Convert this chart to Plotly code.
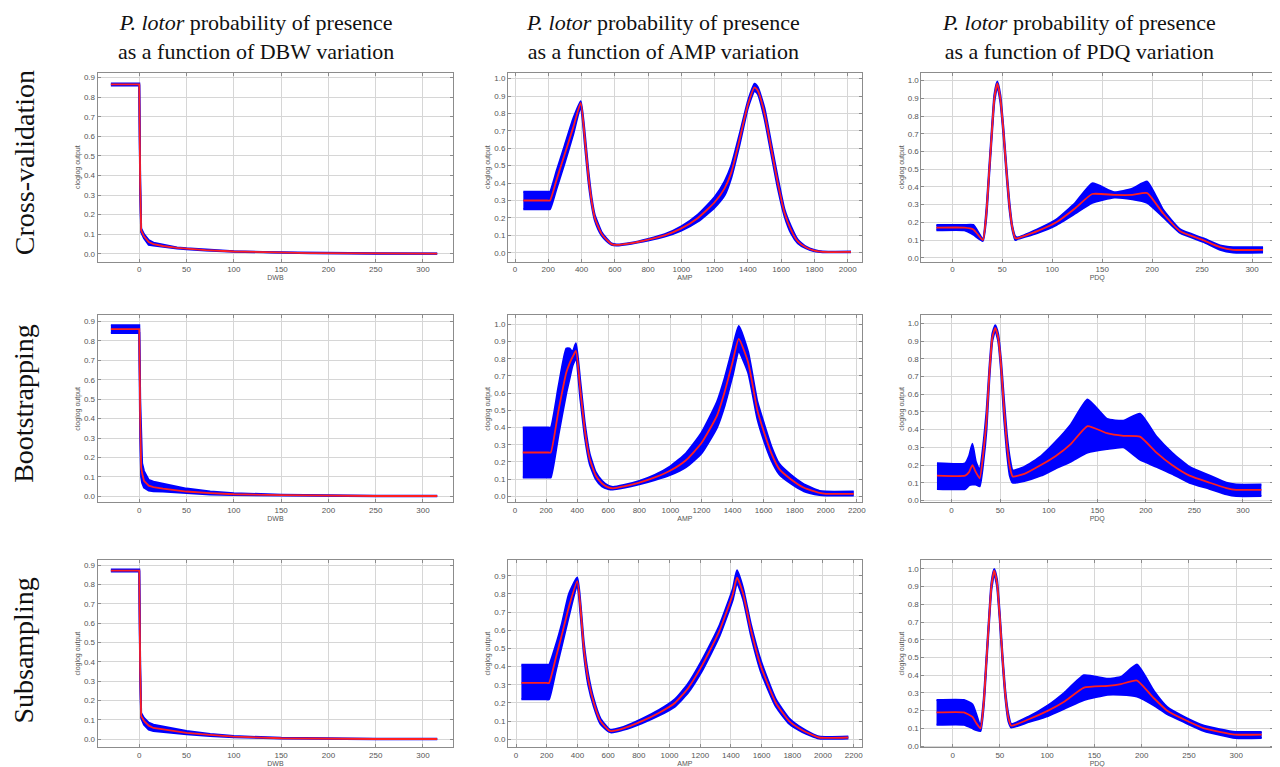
import plotly.graph_objects as go

# ---------------- data ----------------
col_vars = ["DBW", "AMP", "PDQ"]
x_titles = ["DWB", "AMP", "PDQ"]
row_names = ["Cross-validation", "Bootstrapping", "Subsampling"]

# Cross-validation / DBW
cv_dbw_x = [-30, 0, 1, 2, 5, 10, 15, 25, 40, 50, 70, 100, 140, 180, 250, 315]
cv_dbw_mean = [0.865, 0.865, 0.35, 0.12, 0.09, 0.06, 0.05, 0.04, 0.03, 0.026, 0.019, 0.012, 0.007, 0.004, 0.002, 0.001]
cv_dbw_lo = [0.86, 0.86, 0.33, 0.11, 0.08, 0.046, 0.042, 0.035, 0.027, 0.024, 0.017, 0.011, 0.006, 0.003, 0.001, 0.0]
cv_dbw_hi = [0.87, 0.87, 0.37, 0.13, 0.10, 0.07, 0.057, 0.046, 0.033, 0.028, 0.021, 0.013, 0.008, 0.005, 0.003, 0.002]

# Bootstrapping / DBW
bs_dbw_x = [-30, 0, 1, 2, 3, 5, 10, 15, 25, 40, 50, 75, 100, 150, 200, 250, 315]
bs_dbw_mean = [0.86, 0.86, 0.4, 0.15, 0.12, 0.08, 0.055, 0.048, 0.04, 0.03, 0.025, 0.017, 0.011, 0.006, 0.003, 0.002, 0.002]
bs_dbw_lo = [0.84, 0.84, 0.3, 0.1, 0.07, 0.045, 0.03, 0.027, 0.025, 0.02, 0.016, 0.01, 0.007, 0.004, 0.002, 0.001, 0.001]
bs_dbw_hi = [0.88, 0.88, 0.5, 0.27, 0.17, 0.13, 0.085, 0.075, 0.065, 0.05, 0.04, 0.025, 0.016, 0.009, 0.005, 0.003, 0.003]

# Subsampling / DBW
ss_dbw_x = [-30, 0, 1, 2, 5, 10, 15, 25, 40, 50, 75, 100, 150, 200, 250, 315]
ss_dbw_mean = [0.872, 0.872, 0.35, 0.12, 0.095, 0.07, 0.058, 0.05, 0.04, 0.033, 0.022, 0.013, 0.005, 0.002, 0.001, 0.001]
ss_dbw_lo = [0.867, 0.867, 0.33, 0.11, 0.075, 0.05, 0.042, 0.037, 0.03, 0.025, 0.017, 0.01, 0.004, 0.001, 0.0, 0.0]
ss_dbw_hi = [0.877, 0.877, 0.37, 0.135, 0.11, 0.085, 0.075, 0.065, 0.052, 0.043, 0.027, 0.016, 0.007, 0.003, 0.002, 0.002]

# Cross-validation / AMP
cv_amp_x = [50, 195, 210, 250, 300, 350, 395, 420, 440, 460, 480, 500, 520, 550, 580, 610, 700, 800, 900, 1000, 1100,
            1200, 1260, 1300, 1350, 1400, 1440, 1460, 1500, 1540, 1580, 1620, 1660, 1700, 1750, 1800, 1850, 2020]
cv_amp_mean = [0.30, 0.30, 0.30, 0.42, 0.57, 0.72, 0.86, 0.65, 0.45, 0.30, 0.20, 0.15, 0.11, 0.075, 0.05, 0.045, 0.055,
               0.075, 0.10, 0.14, 0.20, 0.29, 0.37, 0.46, 0.65, 0.85, 0.95, 0.93, 0.80, 0.60, 0.40, 0.23, 0.13, 0.065,
               0.03, 0.012, 0.005, 0.005]
cv_amp_lo = [0.25, 0.25, 0.25, 0.37, 0.52, 0.68, 0.84, 0.62, 0.42, 0.28, 0.185, 0.135, 0.10, 0.068, 0.046, 0.042, 0.052,
             0.07, 0.093, 0.128, 0.18, 0.26, 0.33, 0.43, 0.62, 0.83, 0.93, 0.91, 0.77, 0.57, 0.37, 0.21, 0.11, 0.055,
             0.025, 0.008, 0.003, 0.003]
cv_amp_hi = [0.35, 0.35, 0.35, 0.47, 0.62, 0.77, 0.87, 0.68, 0.48, 0.32, 0.215, 0.165, 0.12, 0.082, 0.054, 0.048, 0.058,
             0.08, 0.107, 0.152, 0.22, 0.32, 0.41, 0.50, 0.68, 0.87, 0.97, 0.95, 0.83, 0.63, 0.43, 0.25, 0.15, 0.075,
             0.035, 0.016, 0.007, 0.007]

# Bootstrapping / AMP
bs_amp_x = [50, 215, 230, 280, 330, 350, 370, 392, 420, 450, 480, 520, 560, 600, 630, 700, 800, 900, 1000, 1100, 1200,
            1300, 1350, 1400, 1440, 1500, 1560, 1600, 1650, 1700, 1775, 1860, 1960, 2000, 2180]
bs_amp_mean = [0.255, 0.255, 0.255, 0.50, 0.72, 0.77, 0.81, 0.845, 0.62, 0.38, 0.22, 0.12, 0.075, 0.052, 0.047, 0.058,
               0.08, 0.11, 0.15, 0.21, 0.31, 0.47, 0.61, 0.78, 0.915, 0.78, 0.50, 0.38, 0.25, 0.16, 0.10, 0.05, 0.02,
               0.015, 0.015]
bs_amp_lo = [0.11, 0.11, 0.11, 0.36, 0.60, 0.68, 0.76, 0.80, 0.57, 0.34, 0.19, 0.10, 0.058, 0.043, 0.04, 0.05, 0.07,
             0.095, 0.125, 0.17, 0.25, 0.40, 0.53, 0.70, 0.84, 0.72, 0.45, 0.33, 0.21, 0.13, 0.075, 0.03, 0.008, 0.005,
             0.005]
bs_amp_hi = [0.40, 0.40, 0.40, 0.64, 0.86, 0.86, 0.84, 0.89, 0.67, 0.42, 0.25, 0.14, 0.09, 0.062, 0.055, 0.066, 0.09,
             0.125, 0.175, 0.25, 0.37, 0.55, 0.69, 0.86, 0.99, 0.84, 0.55, 0.43, 0.29, 0.19, 0.125, 0.07, 0.032, 0.028,
             0.028]

# Subsampling / AMP
ss_amp_x = [35, 200, 215, 260, 300, 345, 399, 420, 442, 470, 507, 550, 604, 620, 700, 820, 930, 1035, 1120, 1208, 1270,
            1327, 1413, 1440, 1480, 1531, 1596, 1693, 1780, 1866, 1974, 2165]
ss_amp_mean = [0.31, 0.31, 0.31, 0.45, 0.58, 0.73, 0.87, 0.72, 0.50, 0.33, 0.20, 0.10, 0.05, 0.045, 0.06, 0.10, 0.145,
               0.20, 0.28, 0.40, 0.50, 0.60, 0.80, 0.89, 0.80, 0.60, 0.40, 0.20, 0.10, 0.05, 0.01, 0.01]
ss_amp_lo = [0.22, 0.22, 0.22, 0.38, 0.52, 0.68, 0.85, 0.69, 0.47, 0.30, 0.18, 0.085, 0.042, 0.038, 0.052, 0.088, 0.13,
             0.18, 0.255, 0.37, 0.47, 0.57, 0.77, 0.86, 0.77, 0.57, 0.37, 0.18, 0.085, 0.04, 0.005, 0.005]
ss_amp_hi = [0.41, 0.41, 0.41, 0.52, 0.64, 0.80, 0.89, 0.75, 0.53, 0.36, 0.22, 0.115, 0.058, 0.052, 0.068, 0.112, 0.16,
             0.22, 0.305, 0.43, 0.53, 0.63, 0.83, 0.93, 0.83, 0.63, 0.43, 0.22, 0.115, 0.06, 0.015, 0.015]

# Cross-validation / PDQ
cv_pdq_x = [-16, 12, 21, 30.5, 34, 37, 40, 42, 45, 48, 51, 54, 57, 60, 63, 65, 85, 104, 123, 140, 162, 180, 195,
            211, 228, 251, 268, 281, 311]
cv_pdq_mean = [0.17, 0.17, 0.16, 0.10, 0.25, 0.50, 0.75, 0.90, 0.985, 0.90, 0.72, 0.50, 0.30, 0.17, 0.11, 0.11, 0.15,
               0.20, 0.28, 0.36, 0.355, 0.355, 0.365, 0.25, 0.15, 0.10, 0.06, 0.045, 0.045]
cv_pdq_lo = [0.155, 0.155, 0.13, 0.095, 0.23, 0.48, 0.73, 0.88, 0.97, 0.88, 0.70, 0.48, 0.28, 0.16, 0.10, 0.105, 0.14,
             0.185, 0.25, 0.31, 0.34, 0.33, 0.31, 0.23, 0.14, 0.09, 0.045, 0.03, 0.03]
cv_pdq_hi = [0.185, 0.185, 0.185, 0.105, 0.27, 0.52, 0.77, 0.92, 0.995, 0.92, 0.74, 0.52, 0.32, 0.18, 0.12, 0.115, 0.16,
             0.215, 0.31, 0.42, 0.37, 0.39, 0.43, 0.27, 0.16, 0.11, 0.07, 0.06, 0.06]

# Bootstrapping / PDQ
bs_pdq_x = [-15, 14, 18, 21.5, 25, 29, 33, 36, 39, 42, 45, 48, 51, 54, 57, 60, 63, 75, 92, 107, 123, 140, 160, 177,
            194, 211, 227, 245, 266, 283, 293, 319]
bs_pdq_mean = [0.14, 0.14, 0.16, 0.20, 0.16, 0.125, 0.28, 0.45, 0.72, 0.92, 0.975, 0.92, 0.76, 0.52, 0.32, 0.19, 0.135,
               0.15, 0.20, 0.25, 0.32, 0.42, 0.38, 0.365, 0.36, 0.27, 0.20, 0.14, 0.10, 0.07, 0.06, 0.06]
bs_pdq_lo = [0.065, 0.065, 0.085, 0.09, 0.09, 0.08, 0.23, 0.40, 0.69, 0.90, 0.96, 0.90, 0.73, 0.47, 0.27, 0.14, 0.10,
             0.11, 0.14, 0.18, 0.22, 0.27, 0.29, 0.30, 0.23, 0.19, 0.15, 0.10, 0.065, 0.035, 0.025, 0.025]
bs_pdq_hi = [0.21, 0.21, 0.25, 0.32, 0.22, 0.17, 0.33, 0.50, 0.75, 0.94, 0.99, 0.94, 0.79, 0.57, 0.37, 0.24, 0.17,
             0.19, 0.25, 0.33, 0.43, 0.57, 0.46, 0.45, 0.49, 0.36, 0.27, 0.19, 0.14, 0.10, 0.09, 0.09]

# Subsampling / PDQ
ss_pdq_x = [-17, 12, 21, 25, 29.5, 33, 36, 39, 41, 44, 47, 50, 53, 56, 59, 62, 80, 101, 118, 139, 164, 178, 195, 213,
            227, 245, 266, 299, 327]
ss_pdq_mean = [0.19, 0.19, 0.165, 0.13, 0.10, 0.25, 0.50, 0.75, 0.90, 0.99, 0.92, 0.72, 0.48, 0.28, 0.16, 0.115, 0.15,
               0.20, 0.25, 0.33, 0.34, 0.35, 0.37, 0.27, 0.20, 0.15, 0.10, 0.065, 0.065]
ss_pdq_lo = [0.12, 0.12, 0.10, 0.09, 0.085, 0.23, 0.48, 0.73, 0.88, 0.975, 0.90, 0.70, 0.46, 0.26, 0.14, 0.105, 0.135,
             0.17, 0.21, 0.26, 0.29, 0.29, 0.28, 0.23, 0.18, 0.135, 0.085, 0.045, 0.045]
ss_pdq_hi = [0.26, 0.26, 0.235, 0.18, 0.11, 0.27, 0.52, 0.77, 0.92, 1.0, 0.94, 0.74, 0.50, 0.30, 0.18, 0.125, 0.165,
             0.23, 0.30, 0.40, 0.38, 0.39, 0.46, 0.31, 0.22, 0.165, 0.115, 0.08, 0.08]

panels = [
    [(cv_dbw_x, cv_dbw_mean, cv_dbw_lo, cv_dbw_hi), (cv_amp_x, cv_amp_mean, cv_amp_lo, cv_amp_hi),
     (cv_pdq_x, cv_pdq_mean, cv_pdq_lo, cv_pdq_hi)],
    [(bs_dbw_x, bs_dbw_mean, bs_dbw_lo, bs_dbw_hi), (bs_amp_x, bs_amp_mean, bs_amp_lo, bs_amp_hi),
     (bs_pdq_x, bs_pdq_mean, bs_pdq_lo, bs_pdq_hi)],
    [(ss_dbw_x, ss_dbw_mean, ss_dbw_lo, ss_dbw_hi), (ss_amp_x, ss_amp_mean, ss_amp_lo, ss_amp_hi),
     (ss_pdq_x, ss_pdq_mean, ss_pdq_lo, ss_pdq_hi)],
]

# ---------------- layout geometry (pixels) ----------------
W, H = 1280, 767
col_px = [(90, 447), (502, 857), (917, 1270)]
row_px = [(65, 255), (309, 497), (555, 743)]
x_ranges = [
    [[-44, 332], [-42, 2084], [-31, 321]],
    [[-44, 332], [-45, 2231], [-31, 331]],
    [[-44, 332], [-52, 2252], [-33, 339]],
]
y_ranges = [
    [[-0.04, 0.925], [-0.051, 1.034], [-0.022, 1.045]],
    [[-0.031, 0.931], [-0.035, 1.052], [-0.011, 1.045]],
    [[-0.041, 0.926], [-0.043, 0.986], [-0.006, 1.05]],
]
x_dticks = [50, 200, 50]
line_shapes = [("linear", 0), ("spline", 0.5), ("spline", 0.45)]

fig = go.Figure()
BLUE = "#0000ff"
RED = "#ff1f1f"
tickfont = dict(family="Liberation Sans, Arial, sans-serif", size=8, color="#555555")
axtitlefont = dict(family="Liberation Sans, Arial, sans-serif", size=7, color="#555555")

layout_axes = {}
n = 0
for r in range(3):
    for c in range(3):
        n += 1
        xs, mean, lo, hi = panels[r][c]
        xa = "x" if n == 1 else f"x{n}"
        ya = "y" if n == 1 else f"y{n}"
        shp, sm = line_shapes[c]
        lkw = dict(shape=shp)
        if shp == "spline":
            lkw["smoothing"] = sm
        fig.add_trace(go.Scatter(x=xs, y=lo, mode="lines", line=dict(color=BLUE, width=2, **lkw),
                                 xaxis=xa, yaxis=ya, showlegend=False, hoverinfo="skip"))
        fig.add_trace(go.Scatter(x=xs, y=hi, mode="lines", line=dict(color=BLUE, width=2, **lkw),
                                 fill="tonexty", fillcolor=BLUE,
                                 xaxis=xa, yaxis=ya, showlegend=False, hoverinfo="skip"))
        fig.add_trace(go.Scatter(x=xs, y=mean, mode="lines", line=dict(color=RED, width=1.8, **lkw),
                                 xaxis=xa, yaxis=ya, showlegend=False))
        x0, x1 = col_px[c]
        y0, y1 = row_px[r]
        key = "" if n == 1 else str(n)
        layout_axes[f"xaxis{key}"] = dict(
            domain=[x0 / W, x1 / W], anchor=ya, range=x_ranges[r][c], dtick=x_dticks[c], tick0=0,
            showgrid=True, gridcolor="#d6d6d6", gridwidth=1, zeroline=False,
            showline=True, linecolor="#8c8c8c", linewidth=1, mirror="ticks",
            ticks="inside", ticklen=3, tickcolor="#8c8c8c", tickfont=tickfont,
            title=dict(text=x_titles[c], font=axtitlefont, standoff=0),
        )
        layout_axes[f"yaxis{key}"] = dict(
            domain=[1 - y1 / H, 1 - y0 / H], anchor=xa, range=y_ranges[r][c], dtick=0.1, tick0=0,
            tickformat=".1f",
            showgrid=True, gridcolor="#d6d6d6", gridwidth=1, zeroline=False,
            showline=True, linecolor="#8c8c8c", linewidth=1, mirror="ticks",
            ticks="inside", ticklen=3, tickcolor="#8c8c8c", tickfont=tickfont,
            title=dict(text="cloglog output", font=axtitlefont, standoff=2),
        )

annotations = []
title_cx = [249, 658, 1075]
for c in range(3):
    annotations.append(dict(
        x=title_cx[c] / W, y=1 - 29 / H, xref="paper", yref="paper", xanchor="center", yanchor="middle",
        text=f"<i>P. lotor</i> probability of presence<br>as a function of {col_vars[c]} variation",
        showarrow=False, align="center",
        font=dict(family="Liberation Serif, Times New Roman, serif", size=22, color="#111111"),
    ))
row_cy = [155, 397, 646]
for r in range(3):
    annotations.append(dict(
        x=16 / W, y=1 - row_cy[r] / H, xref="paper", yref="paper", xanchor="center", yanchor="middle",
        text=row_names[r], textangle=-90, showarrow=False,
        font=dict(family="Liberation Serif, Times New Roman, serif", size=28, color="#111111"),
    ))

fig.update_layout(
    width=W, height=H, margin=dict(l=0, r=0, t=0, b=0),
    paper_bgcolor="white", plot_bgcolor="white",
    annotations=annotations, showlegend=False,
    **layout_axes,
)

fig.write_html("out.html")
